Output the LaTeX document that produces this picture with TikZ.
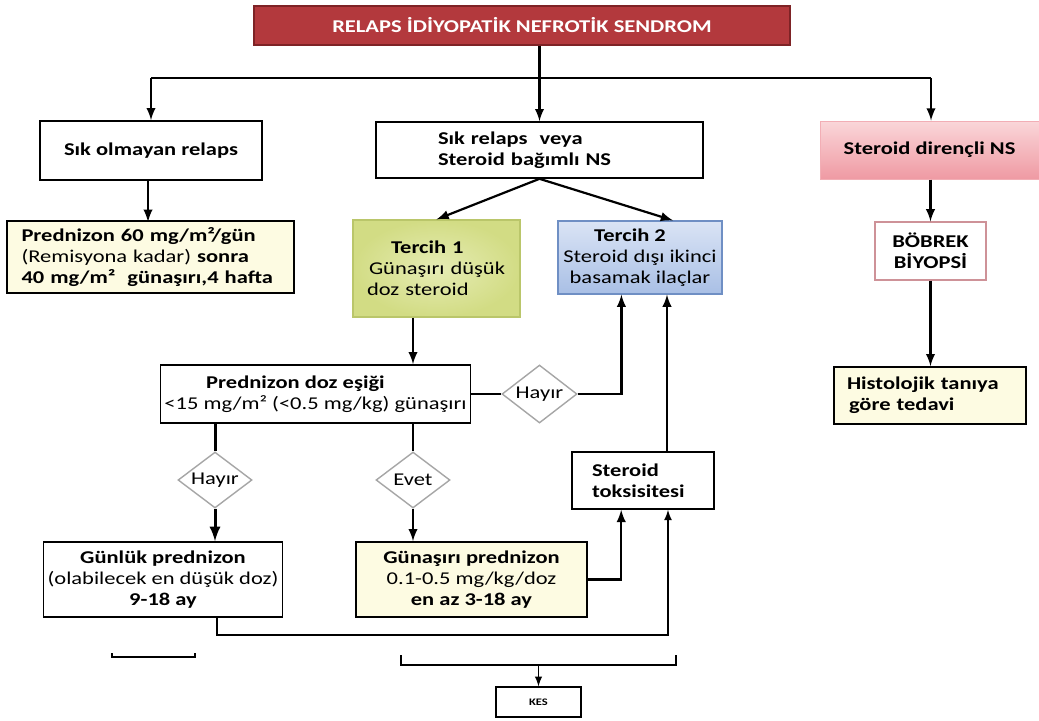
\documentclass[tikz,border=0pt]{standalone}
\usepackage{fontspec}
\setmainfont{Carlito}[FakeStretch=1.25]
\usepackage{tikz}
\usetikzlibrary{calc,shapes.geometric,arrows,positioning}
\definecolor{titlered}{HTML}{B3393D}
\definecolor{titleedge}{HTML}{7E2326}
\definecolor{creamfill}{HTML}{FDFBE2}
\definecolor{pinktop}{HTML}{FAD6D9}
\definecolor{pinkbot}{HTML}{EF9AA3}
\definecolor{limein}{HTML}{E6ECB4}
\definecolor{limeout}{HTML}{D2DC84}
\definecolor{limeedge}{HTML}{BAC66A}
\definecolor{bluetop}{HTML}{DAE4F5}
\definecolor{bluebot}{HTML}{A9BFE5}
\definecolor{blueedge}{HTML}{6F8FC4}
\definecolor{choicegray}{HTML}{A6A6A6}
\newcommand{\flowfont}{\fontsize{9}{10.6}\selectfont}
\tikzstyle{box}=[draw,line width=0.8pt,font=\flowfont\bfseries,inner sep=2pt,align=center]
\tikzstyle{cream}=[box,fill=creamfill]
\tikzstyle{headbox}=[box,draw=titleedge,fill=titlered,text=white,inner sep=0pt]
\tikzstyle{pinkbox}=[box,draw=pinkbot!80!white,line width=0.5pt,top color=pinktop,bottom color=pinkbot]
\tikzstyle{limebox}=[box,draw=limeedge,line width=0.6pt,inner color=limein,outer color=limeout]
\tikzstyle{bluebox}=[box,draw=blueedge,line width=0.6pt,top color=bluetop,bottom color=bluebot]
\tikzstyle{choice}=[diamond,draw=choicegray,line width=0.7pt,fill=white,aspect=1.3,inner sep=0pt,font=\flowfont]

\begin{document}
\begin{tikzpicture}[x=0.5pt,y=-0.5pt,
arr/.style={-latex,line width=1.1pt},
link/.style={line width=1.1pt}]
\useasboundingbox (0,0) rectangle (1039,720);

% top row
\node[headbox,minimum width=268pt,minimum height=19.5pt] (top) at (522,25.5) {RELAPS İDİYOPATİK NEFROTİK SENDROM};
\node[box,minimum width=111pt,minimum height=29.5pt] (rare) at (151,150.5) {Sık olmayan relaps};
\node[box,align=left,text width=155.5pt,inner xsep=4pt,minimum height=28pt] (freq) at (539.5,150) {\hspace*{27pt}Sık relaps~ veya\\\hspace*{27pt}Steroid bağımlı NS};
\node[pinkbox,minimum width=109.5pt,minimum height=29pt] (resist) at (929.5,150) {Steroid dirençli NS};

% second row
\node[cream,align=left,text width=129pt,inner xsep=7.25pt,minimum height=36pt] (pred) at (150.5,257) {Prednizon 60 mg/m²/gün\\{\mdseries(Remisyona kadar)} sonra\\40 mg/m²~ günaşırı,4 hafta};
\node[limebox,align=left,text width=75.5pt,inner xsep=4pt,minimum height=48.5pt] (opt1) at (436.5,268.5) {\hspace*{15pt}Tercih 1\\{\mdseries\hspace*{4pt}Günaşırı düşük}\\{\mdseries\hspace*{3pt}doz steroid}};
\node[bluebox,minimum width=82pt,minimum height=36.5pt] (opt2) at (640,257.5) {Tercih 2\hspace*{10pt}\\{\mdseries Steroid dışı ikinci}\\{\mdseries basamak ilaçlar}};
\node[box,draw=pinkbot!70!gray,line width=0.6pt,minimum width=55.5pt,minimum height=29pt] (biopsy) at (930.5,251) {BÖBREK\\BİYOPSİ};

% threshold
\node[box,minimum width=152.5pt,minimum height=29pt] (thresh) at (315.5,394) {Prednizon doz eşiği\hspace*{20pt}\\{\mdseries <15 mg/m² (<0.5 mg/kg) günaşırı}};
\node[choice,minimum width=37.5pt,minimum height=29pt] (noA) at (539.5,394) {Hayır};
\node[cream,align=left,text width=83pt,inner xsep=6.5pt,minimum height=28.5pt] (histo) at (930,395.5) {Histolojik tanıya\\\hspace*{1pt}göre tedavi};

% decisions
\node[choice,minimum width=37pt,minimum height=28pt] (noB) at (215,480) {Hayır};
\node[choice,minimum width=37pt,minimum height=28pt] (yes) at (413,480) {Evet};
\node[box,align=left,text width=51pt,inner xsep=10pt,minimum height=28.5pt] (tox) at (643,480.5) {Steroid\\toksisitesi};

% bottom row
\node[box,minimum width=104pt,minimum height=37.5pt] (daily) at (163,579.5) {Günlük prednizon\\{\mdseries (olabilecek en düşük doz)}\\9-18 ay};
\node[cream,minimum width=115.5pt,minimum height=37.5pt] (alt) at (471.5,579.5) {Günaşırı prednizon\\{\mdseries 0.1-0.5 mg/kg/doz}\hspace*{8pt}\\en az 3-18 ay};
\node[box,line width=0.6pt,font=\fontsize{5}{6}\selectfont\bfseries,minimum width=42.5pt,minimum height=15pt] (stop) at (538.5,702) {KES};

% helper points
\coordinate (hl) at (151,78);
\coordinate (hr) at (931,78);
\coordinate (jn) at (668,635);
\coordinate (bl) at (401,665);
\coordinate (br) at (676,665);
\coordinate (tu) at ($(tox.north)+(24,0)$);

% connectors
\draw[arr] (top.south -| freq.north) -- (freq.north);
\draw[link] (hl) -- (hr);
\draw[arr] (hl) -- (rare.north);
\draw[arr] (hr) -- (hr |- resist.north);
\draw[arr] (rare.south) ++(-3,0) -- ++(0,41);
\draw[arr] (freq.south) -- (opt1.north);
\draw[arr] (freq.south) -- ($(opt2.north)+(33,0)$);
\draw[arr] (resist.south -| biopsy.north) -- (biopsy.north);
\draw[arr] (biopsy.south) -- (biopsy.south |- histo.north);
\draw[arr] (yes.north |- opt1.south) -- (yes.north |- thresh.north);
\draw[link] (thresh.east) -- (noA.west);
\draw[arr] (noA.east) -| ($(opt2.south west)+(64,0)$);
\draw[line width=1.5pt] (thresh.south -| noB.north) -- (noB.north);
\draw[arr,line width=1.5pt] (noB.south) -- (noB.south |- daily.north);
\draw[link] (thresh.south -| yes.north) -- (yes.north);
\draw[arr] (yes.south) -- (yes.south |- alt.north);
\draw[arr] (alt.east) -| ($(tox.south west)+(50,0)$);
\draw[arr] (tu) -- (tu |- opt2.south);
\draw[arr,line width=0.8pt] ($(daily.south)+(54,0)$) |- (jn) -- (jn |- tox.south);

% brackets
\draw[line width=0.6pt] (112,653) -- (112,657) -- (195,657) -- (195,653);
\draw[line width=0.6pt] (401,655) -- (bl) -- (br) -- (676,655);
\draw[arr,line width=0.7pt] (bl -| stop.north) -- (stop.north);
\end{tikzpicture}
\end{document}
